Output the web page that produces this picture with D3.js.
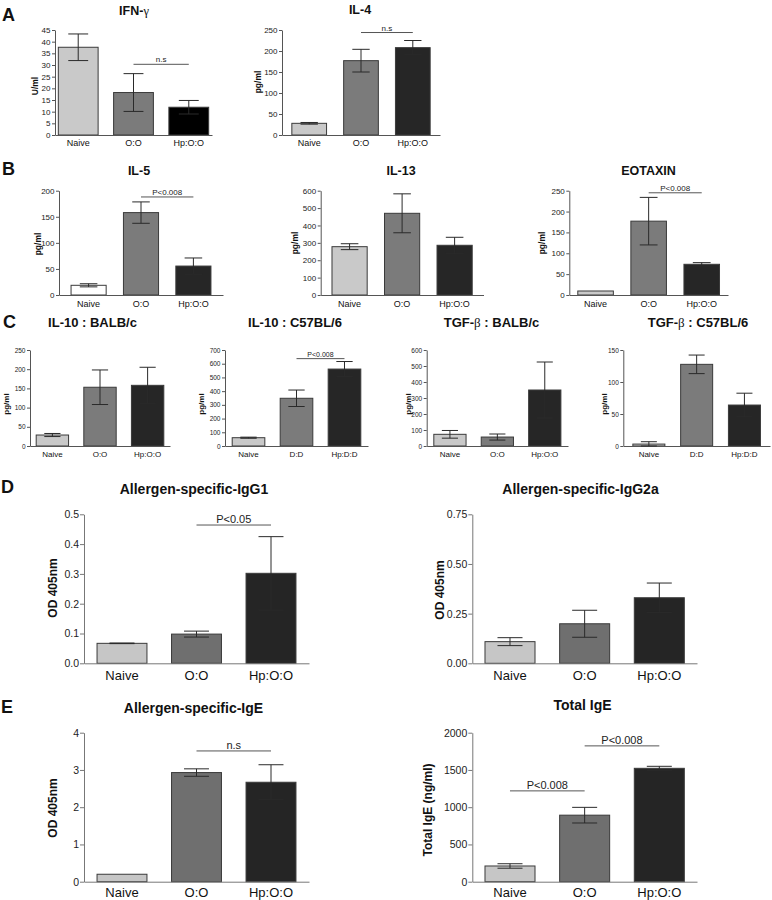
<!DOCTYPE html>
<html><head><meta charset="utf-8">
<script src="https://cdn.jsdelivr.net/npm/d3@7"></script>
<style>
html,body{margin:0;padding:0;background:#fff;}
svg{display:block;font-family:"Liberation Sans",Arial,sans-serif;}
</style></head>
<body><svg id="chart" width="772" height="900"></svg>
<script>
// ---------- DATA ----------
const catsO = ["Naive", "O:O", "Hp:O:O"];
const catsD = ["Naive", "D:D", "Hp:D:D"];

const ifnMean = [37.6, 18.2, 11.9];   const ifnErr = [5.7, 8.1, 2.9];
const il4Mean = [27.8, 177, 208];     const il4Err = [2, 27, 17];
const il5Mean = [18.6, 158, 55.5];    const il5Err = [3, 20.5, 15.5];
const il13Mean = [278, 470, 286];     const il13Err = [17, 112, 46];
const eotMean = [9.6, 177, 73.6];     const eotErr = [0, 57, 4];
const il10bMean = [28.6, 153, 158];   const il10bErr = [4, 45, 47];
const il10cMean = [60.5, 348, 561];   const il10cErr = [4, 60, 55];
const tgfbMean = [73, 56, 350];       const tgfbErr = [24, 19, 175];
const tgfcMean = [3, 127.6, 64];      const tgfcErr = [3.7, 14.5, 18.5];
const igg1Mean = [0.067, 0.098, 0.302]; const igg1Err = [0.001, 0.01, 0.123];
const igg2Mean = [0.109, 0.199, 0.330]; const igg2Err = [0.02, 0.068, 0.074];
const igeMean = [0.2, 2.93, 2.67];    const igeErr = [0, 0.1, 0.47];
const totMean = [211, 893, 1522];     const totErr = [30, 105, 27];

const ifnTicks = [0,5,10,15,20,25,30,35,40,45];
const il4Ticks = [0,50,100,150,200,250];
const il5Ticks = [0,50,100,150,200];
const il13Ticks = [0,100,200,300,400,500,600];
const eotTicks = [0,50,100,150,200,250];
const il10bTicks = [0,50,100,150,200,250];
const il10cTicks = [0,100,200,300,400,500,600,700];
const tgfbTicks = [0,100,200,300,400,500,600];
const tgfcTicks = [0,50,100,150];
const igg1Ticks = [0,0.1,0.2,0.3,0.4,0.5];
const igg2Ticks = [0,0.25,0.5,0.75];
const igeTicks = [0,1,2,3,4];
const totTicks = [0,500,1000,1500,2000];

// significance annotations: [fromIndex, toIndex, yValue, label]
const ifnSig = [[1, 2, 30.3, "n.s"]];
const il4Sig = [[1, 2, 244, "n.s"]];
const il5Sig = [[1, 2, 188, "P<0.008"]];
const eotSig = [[1, 2, 245, "P<0.008"]];
const il10cSig = [[1, 2, 637, "P<0.008"]];
const igg1Sig = [[1, 2, 0.464, "P<0.05"]];
const igeSig = [[1, 2, 3.51, "n.s"]];
const totSig = [[0, 1, 1219, "P<0.008"], [1, 2, 1823, "P<0.008"]];

// ---------- STYLES ----------
const fillsSmall = ["#c9c9c9", "#7b7b7b", "#262626"];
const fillsIFN = ["#c9c9c9", "#7b7b7b", "#000000"];
const fillsIL5 = ["#ffffff", "#7b7b7b", "#262626"];
const fillsBig = ["#c6c6c6", "#6f6f6f", "#252525"];

const small = {tickFs: 8, catFs: 9, titleFs: 12.5, ylFs: 8.5, sigFs: 8, tick: 3, pad: 1.5, axisColor: "#555", labelPad: 4.5};
const smallC = {tickFs: 6.5, catFs: 8, titleFs: 13, ylFs: 8, sigFs: 7, tick: 3, pad: 1.5, axisColor: "#555", labelPad: 5};
const big = {tickFs: 10.5, catFs: 13, titleFs: 14, ylFs: 12, sigFs: 11, tick: 4, pad: 1, axisColor: "#777", labelPad: 7};

const panels = [
  {st: small, cats: catsO, mean: ifnMean, err: ifnErr, ticks: ifnTicks, fmt: d3.format("d"), fills: fillsIFN, sig: ifnSig,
   x0: 55, x1: 212, pi: 0.28, po: 0.06, y0: 135, yTop: 30, title: ["IFN-", "γ"], tx: 134, ty: 15, yl: "U/ml", ylx: 38, yly: 86},
  {st: small, cats: catsO, mean: il4Mean, err: il4Err, ticks: il4Ticks, fmt: d3.format("d"), fills: fillsSmall, sig: il4Sig,
   x0: 282, x1: 440, pi: 0.33, po: 0.19, y0: 135, yTop: 30, title: ["IL-4"], tx: 360, ty: 14, yl: "pg/ml", ylx: 261, yly: 82},
  {st: small, cats: catsO, mean: il5Mean, err: il5Err, ticks: il5Ticks, fmt: d3.format("d"), fills: fillsIL5, sig: il5Sig,
   x0: 59, x1: 223, pi: 0.33, po: 0.23, y0: 295, yTop: 190.7, title: ["IL-5"], tx: 139, ty: 175, yl: "pg/ml", ylx: 41, yly: 244, labelPad: 5.5},
  {st: small, cats: catsO, mean: il13Mean, err: il13Err, ticks: il13Ticks, fmt: d3.format("d"), fills: fillsSmall, sig: [],
   x0: 320.7, x1: 483.5, pi: 0.33, po: 0.215, y0: 295, yTop: 190.7, title: ["IL-13"], tx: 401, ty: 175, yl: "pg/ml", ylx: 298, yly: 243, labelPad: 5.5},
  {st: small, cats: catsO, mean: eotMean, err: eotErr, ticks: eotTicks, fmt: d3.format("d"), fills: fillsSmall, sig: eotSig,
   x0: 569.3, x1: 728, pi: 0.33, po: 0.16, y0: 295, yTop: 190.7, title: ["EOTAXIN"], tx: 648.5, ty: 175, yl: "pg/ml", ylx: 545, yly: 243, labelPad: 5.5},
  {st: smallC, cats: catsO, mean: il10bMean, err: il10bErr, ticks: il10bTicks, fmt: d3.format("d"), fills: fillsSmall, sig: [],
   x0: 30, x1: 170, pi: 0.32, po: 0.13, y0: 446, yTop: 350, title: ["IL-10 : BALB/c"], tx: 92.5, ty: 327, yl: "pg/ml", ylx: 9, yly: 404},
  {st: smallC, cats: catsD, mean: il10cMean, err: il10cErr, ticks: il10cTicks, fmt: d3.format("d"), fills: fillsSmall, sig: il10cSig,
   x0: 225, x1: 368, pi: 0.32, po: 0.15, y0: 446, yTop: 350, title: ["IL-10 : C57BL/6"], tx: 295, ty: 327, yl: "pg/ml", ylx: 204, yly: 404},
  {st: smallC, cats: catsO, mean: tgfbMean, err: tgfbErr, ticks: tgfbTicks, fmt: d3.format("d"), fills: fillsSmall, sig: [],
   x0: 426.7, x1: 568, pi: 0.32, po: 0.15, y0: 446, yTop: 350, title: ["TGF-", "β", " : BALB/c"], tx: 491.5, ty: 327, yl: "pg/ml", ylx: 411, yly: 404},
  {st: smallC, cats: catsD, mean: tgfcMean, err: tgfcErr, ticks: tgfcTicks, fmt: d3.format("d"), fills: fillsSmall, sig: [],
   x0: 623.3, x1: 770, pi: 0.33, po: 0.2, y0: 446, yTop: 350, title: ["TGF-", "β", " : C57BL/6"], tx: 698, ty: 327, yl: "pg/ml", ylx: 607, yly: 404},
  {st: big, cats: catsO, mean: igg1Mean, err: igg1Err, ticks: igg1Ticks, fmt: d3.format(".1f"), fills: fillsBig, sig: igg1Sig,
   x0: 84, x1: 309, pi: 0.33, po: 0.175, y0: 663.3, yTop: 514.3, title: ["Allergen-specific-IgG1"], tx: 194, ty: 494, yl: "OD 405nm", ylx: 57, yly: 588, labelPad: 7.5},
  {st: big, cats: catsO, mean: igg2Mean, err: igg2Err, ticks: igg2Ticks, fmt: d3.format(".2f"), fills: fillsBig, sig: [],
   x0: 472.3, x1: 697, pi: 0.33, po: 0.17, y0: 663.3, yTop: 514.3, title: ["Allergen-specific-IgG2a"], tx: 580.5, ty: 494, yl: "OD 405nm", ylx: 444, yly: 590, labelPad: 7.5},
  {st: big, cats: catsO, mean: igeMean, err: igeErr, ticks: igeTicks, fmt: d3.format("d"), fills: fillsBig, sig: igeSig,
   x0: 84, x1: 309, pi: 0.33, po: 0.175, y0: 881.7, yTop: 732.7, title: ["Allergen-specific-IgE"], tx: 193.5, ty: 713, yl: "OD 405nm", ylx: 57, yly: 808, labelPad: 6},
  {st: big, cats: catsO, mean: totMean, err: totErr, ticks: totTicks, fmt: d3.format("d"), fills: fillsBig, sig: totSig,
   x0: 472.3, x1: 697, pi: 0.33, po: 0.17, y0: 881.7, yTop: 732.7, title: ["Total IgE"], tx: 582.5, ty: 710, yl: "Total IgE (ng/ml)", ylx: 432, yly: 810, labelPad: 6}
];

const letters = [["A", 2, 21], ["B", 2, 175], ["C", 3, 328], ["D", 1, 493], ["E", 1, 713]];

// ---------- DRAW ----------
const svg = d3.select("#chart");
svg.append("rect").attr("width", 772).attr("height", 900).attr("fill", "#fff");

letters.forEach(([t, x, y]) => {
  svg.append("text").attr("x", x).attr("y", y).attr("font-size", 18).attr("font-weight", "bold").attr("fill", "#111").text(t);
});

panels.forEach(p => {
  const st = p.st;
  const g = svg.append("g");
  const x = d3.scaleBand().domain(p.cats).range([p.x0, p.x1]).paddingInner(p.pi).paddingOuter(p.po);
  const y = d3.scaleLinear().domain([0, p.ticks[p.ticks.length - 1]]).range([p.y0, p.yTop]);
  const bw = x.bandwidth();

  // bars
  g.selectAll("rect.bar").data(p.mean).join("rect").attr("class", "bar")
    .attr("x", (d, i) => x(p.cats[i]))
    .attr("y", d => y(d))
    .attr("width", bw)
    .attr("height", d => y(0) - y(d))
    .attr("fill", (d, i) => p.fills[i])
    .attr("stroke", "#3a3a3a").attr("stroke-width", 1);

  // y axis
  const ya = g.append("g").attr("transform", `translate(${p.x0},0)`)
    .call(d3.axisLeft(y).tickValues(p.ticks).tickFormat(p.fmt).tickSize(st.tick).tickSizeOuter(0).tickPadding(st.pad));
  ya.select(".domain").attr("stroke", st.axisColor);
  ya.selectAll(".tick line").attr("stroke", st.axisColor);
  ya.selectAll(".tick text").attr("font-size", st.tickFs).attr("font-family", "Liberation Sans, Arial, sans-serif").attr("fill", "#222");

  // x axis
  const xa = g.append("g").attr("transform", `translate(0,${p.y0})`)
    .call(d3.axisBottom(x).tickSize(0).tickSizeOuter(0).tickPadding(p.labelPad != null ? p.labelPad : st.labelPad));
  xa.select(".domain").attr("stroke", st.axisColor);
  xa.selectAll(".tick text").attr("font-size", st.catFs).attr("font-family", "Liberation Sans, Arial, sans-serif").attr("fill", "#111");

  // error bars
  const cap = bw * 0.5;
  p.mean.forEach((m, i) => {
    const e = p.err[i];
    if (e <= 0) return;
    const cx = x(p.cats[i]) + bw / 2;
    const hi = y(m + e), lo = y(Math.max(0, m - e));
    g.append("line").attr("x1", cx).attr("x2", cx).attr("y1", hi).attr("y2", lo).attr("stroke", "#2a2a2a").attr("stroke-width", 1);
    g.append("line").attr("x1", cx - cap / 2).attr("x2", cx + cap / 2).attr("y1", hi).attr("y2", hi).attr("stroke", "#2a2a2a").attr("stroke-width", 1);
    g.append("line").attr("x1", cx - cap / 2).attr("x2", cx + cap / 2).attr("y1", lo).attr("y2", lo).attr("stroke", "#2a2a2a").attr("stroke-width", 1);
  });

  // significance
  p.sig.forEach(([a, b, v, lab]) => {
    const xa1 = x(p.cats[a]) + bw / 2, xb1 = x(p.cats[b]) + bw / 2;
    g.append("line").attr("x1", xa1).attr("x2", xb1).attr("y1", y(v)).attr("y2", y(v)).attr("stroke", "#555").attr("stroke-width", 1);
    g.append("text").attr("x", (xa1 + xb1) / 2).attr("y", y(v) - 2).attr("text-anchor", "middle")
      .attr("font-size", st.sigFs).attr("fill", "#222").text(lab);
  });

  // title
  const t = g.append("text").attr("x", p.tx).attr("y", p.ty).attr("text-anchor", "middle")
    .attr("font-size", st.titleFs).attr("font-weight", "bold").attr("fill", "#111");
  p.title.forEach(s => {
    const ts = t.append("tspan").text(s);
    if (s === "γ" || s === "β") ts.attr("font-family", "Liberation Serif, serif").attr("font-weight", "normal");
  });

  // y label
  g.append("text").attr("transform", `translate(${p.ylx},${p.yly}) rotate(-90)`).attr("text-anchor", "middle")
    .attr("font-size", st.ylFs).attr("font-weight", "bold").attr("fill", "#111").text(p.yl);
});
</script>
</body></html>
